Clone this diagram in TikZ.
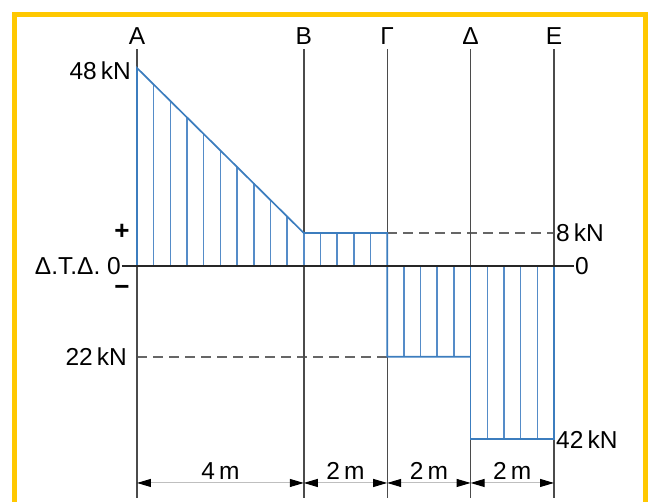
\documentclass[tikz,border=0pt]{standalone}
\usepackage{fontspec}
\setmainfont{Liberation Sans}
\usetikzlibrary{positioning, arrows.meta}

\definecolor{frameyellow}{RGB}{255,200,0}
\definecolor{sfblue}{RGB}{60,125,190}
\definecolor{hatchblue}{RGB}{85,140,200}
\definecolor{stationgray}{RGB}{75,75,75}

\begin{document}
\begin{tikzpicture}[
  x=41.7pt, y=4.125pt,
  font=\fontsize{24.5}{27}\selectfont,
  frame/.style={draw=frameyellow, line width=5.5pt},
  station/.style={draw=stationgray, line width=1.4pt},
  zero/.style={draw=black!85, line width=1.4pt},
  sf/.style={draw=sfblue, line width=1.7pt},
  hatch/.style={draw=hatchblue, line width=1.5pt},
  guide/.style={draw=black!60, line width=2pt, dash pattern=on 10pt off 6pt},
  dimarr/.style={{Triangle[length=14pt,width=8pt,color=black]}-{Triangle[length=14pt,width=8pt,color=black]},
                 draw=black!25, line width=1pt},
  val/.style={inner sep=2pt},
  sign/.style={inner sep=0pt, font=\fontsize{26}{28}\selectfont\bfseries}
]
\useasboundingbox (-137pt,266pt) rectangle (511pt,-236pt);
\draw[frame] (-122.5pt,251.5pt) rectangle (508.5pt,-260pt);

% reference lines
\draw[guide] (6,8) -- (10,8);
\draw[guide] (0,-22) -- (6,-22);

% stations
\foreach \n/\x/\t in {A/0/Α, B/4/Β, G/6/Γ, D/8/Δ, E/10/Ε} {
  \coordinate (\n) at (\x,0);
  \draw[station] (\x,52.6) -- (\x,-56.2);
  \node[anchor=base, inner sep=0pt] (l\n) at (\x,53.7) {\t};
  \coordinate (d\n) at (\x,-52.6);
}

% hatching
\foreach \i in {1,...,9}
  \draw[hatch] (0.4*\i,0) -- (0.4*\i,48-4*\i);
\foreach \xx in {4,4.4,4.8,5.2,5.6}
  \draw[hatch] (\xx,0) -- (\xx,8);
\foreach \xx in {6.4,6.8,7.2,7.6}
  \draw[hatch] (\xx,0) -- (\xx,-22);
\foreach \xx in {8.4,8.8,9.2,9.6}
  \draw[hatch] (\xx,0) -- (\xx,-42);

% shear force diagram
\draw[sf] (A) -- (0,48) -- (4,8) -- (6,8) -- (6,-22) -- (8,-22);
\draw[sf] (D) -- (8,-42) -- (10,-42) -- (E);

% zero line
\node[anchor=east, inner sep=1pt] (ztd) at (-15pt,0) {Δ.Τ.Δ. 0};
\node[anchor=west, inner sep=1pt] (zr) at (437pt,0) {0};
\draw[zero] (ztd.east) -- (zr.west);
\node[sign] (plus) at (-15pt,34pt) {+};
\node[sign] (minus) at (-15pt,-24pt) {−};

% values
\node[val, anchor=east] (v48) at (-4pt,47.3) {48\,kN};
\node[val, anchor=west] (v8) at (10,8) {8\,kN};
\node[val, anchor=east] (v22) at (-8pt,-22) {22\,kN};
\node[val, anchor=west] (v42) at (10,-42) {42\,kN};

% dimensions
\draw[dimarr] (dA) -- node[above, inner sep=3pt] {4\,m} (dB);
\draw[dimarr] (dB) -- node[above, inner sep=3pt] {2\,m} (dG);
\draw[dimarr] (dG) -- node[above, inner sep=3pt] {2\,m} (dD);
\draw[dimarr] (dD) -- node[above, inner sep=3pt] {2\,m} (dE);
\end{tikzpicture}
\end{document}
